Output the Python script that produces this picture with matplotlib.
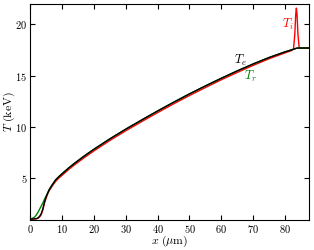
import matplotlib
matplotlib.use('Agg')
import matplotlib.pyplot as plt
from matplotlib.ticker import FuncFormatter

plt.rcParams['mathtext.fontset'] = 'cm'
plt.rcParams['font.family'] = 'serif'
plt.rcParams['font.serif'] = ['DejaVu Serif']

# electron temperature
x_e = [0, 1, 2, 2.5, 3, 3.5, 4, 4.5, 5, 5.5, 6, 7, 8, 9, 10, 12, 14, 17, 20, 25,
       30, 35, 40, 45, 50, 55, 60, 65, 70, 75, 80, 82, 83, 83.5, 84, 85, 86, 87, 88]
T_e = [1.0, 1.0, 1.03, 1.1, 1.25, 1.5, 1.95, 2.6, 3.1, 3.5, 3.85, 4.35, 4.8, 5.12, 5.4, 5.95, 6.45, 7.15, 7.8, 8.82,
       9.77, 10.67, 11.55, 12.4, 13.22, 14.0, 14.75, 15.47, 16.15, 16.78, 17.33, 17.52, 17.62, 17.68, 17.7, 17.7, 17.7, 17.7, 17.7]

# radiation temperature
x_r = [0, 0.5, 1, 1.5, 2, 2.5, 3, 3.5, 4, 4.5, 5, 5.5, 6, 7, 8, 9, 10, 12, 14, 17, 20, 25,
       30, 35, 40, 45, 50, 55, 60, 65, 70, 75, 80, 82, 83, 83.5, 84, 85, 86, 87, 88]
T_r = [1.0, 1.03, 1.1, 1.2, 1.4, 1.65, 1.95, 2.25, 2.55, 2.9, 3.2, 3.5, 3.85, 4.35, 4.8, 5.12, 5.4, 5.95, 6.45, 7.15, 7.8, 8.82,
       9.77, 10.67, 11.55, 12.4, 13.22, 14.0, 14.75, 15.47, 16.15, 16.78, 17.33, 17.52, 17.62, 17.68, 17.7, 17.7, 17.7, 17.7, 17.7]

# ion temperature
x_i = [0, 1, 2, 2.5, 3, 3.5, 4, 4.5, 5, 5.5, 6, 7, 8, 9, 10, 12, 14, 17, 20, 25,
       30, 35, 40, 45, 50, 55, 60, 65, 70, 75, 80, 82, 82.6, 83, 83.3, 83.5, 83.7, 84, 84.4, 85, 86, 87, 88]
T_i = [1.0, 1.0, 1.02, 1.07, 1.2, 1.42, 1.85, 2.5, 3.0, 3.42, 3.75, 4.23, 4.66, 4.98, 5.25, 5.8, 6.3, 6.99, 7.64, 8.66,
       9.61, 10.51, 11.39, 12.24, 13.06, 13.84, 14.6, 15.32, 16.01, 16.66, 17.23, 17.45, 17.6, 19.0, 21.0, 21.6, 21.0, 19.0, 17.7, 17.7, 17.7, 17.7, 17.7]

fig = plt.figure(figsize=(3.14, 2.5), dpi=100)
ax = fig.add_axes([0.0955, 0.12, 0.889, 0.864])

ax.plot(x_i, T_i, color='red', lw=1.0)
ax.plot(x_r, T_r, color='green', lw=1.0)
ax.plot(x_e, T_e, color='black', lw=1.0)

ax.text(66, 16.5, '$T_e$', color='black', fontsize=9, ha='center', va='center')
ax.text(69.2, 14.9, '$T_r$', color='green', fontsize=9, ha='center', va='center')
ax.text(81, 20.0, '$T_i$', color='red', fontsize=9, ha='center', va='center')

ax.set_xlim(0, 87.5)
ax.set_ylim(0.9, 22)
ax.set_xticks(range(0, 90, 10))
ax.set_yticks([5, 10, 15, 20])
fmt = FuncFormatter(lambda v, p: r'$\mathrm{%g}$' % v)
ax.xaxis.set_major_formatter(fmt)
ax.yaxis.set_major_formatter(fmt)
ax.tick_params(direction='in', top=True, right=True, labelsize=7.5, length=3.5, width=0.8, pad=2)
ax.set_xlabel(r'$x\ (\mu\mathrm{m})$', fontsize=8.5, va='center')
ax.set_ylabel(r'$T\ (\mathrm{keV})$', fontsize=8.5, va='center')
ax.xaxis.set_label_coords(0.5, -0.1)
ax.yaxis.set_label_coords(-0.075, 0.5)

plt.savefig('out.png', dpi=100)
